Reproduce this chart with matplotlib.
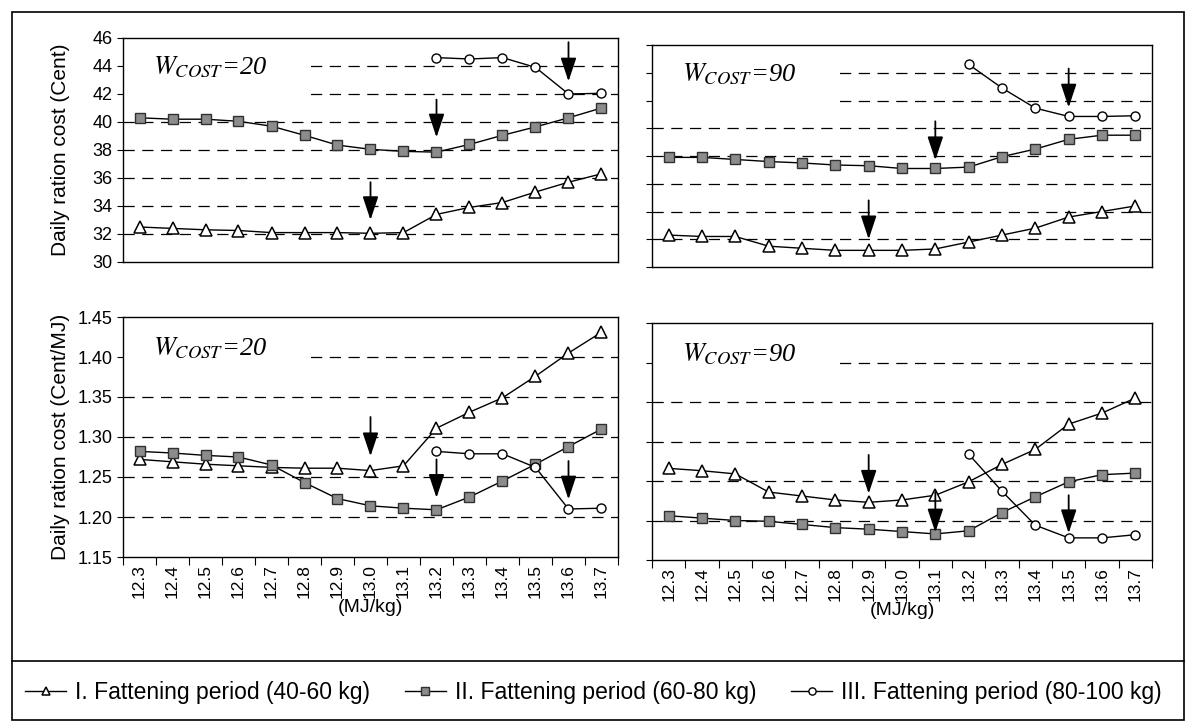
import numpy as np
import matplotlib
matplotlib.use("Agg")
import matplotlib.pyplot as plt
from matplotlib.patches import Rectangle
from matplotlib.lines import Line2D

plt.rcParams['font.family'] = ['Liberation Sans', 'DejaVu Sans']
plt.rcParams['mathtext.fontset'] = 'stix'

nan = np.nan

# energy levels (MJ/kg)
energy = ["12.3", "12.4", "12.5", "12.6", "12.7", "12.8", "12.9", "13.0",
          "13.1", "13.2", "13.3", "13.4", "13.5", "13.6", "13.7"]

# daily ration cost (Cent), W_cost = 20
cent20_p1 = [32.5, 32.4, 32.3, 32.25, 32.1, 32.1, 32.1, 32.05, 32.1, 33.4, 33.9, 34.25, 35.0, 35.7, 36.3]
cent20_p2 = [40.3, 40.2, 40.2, 40.05, 39.7, 39.05, 38.35, 38.05, 37.9, 37.85, 38.4, 39.05, 39.65, 40.3, 41.0]
cent20_p3 = [nan, nan, nan, nan, nan, nan, nan, nan, nan, 44.6, 44.5, 44.6, 43.9, 42.0, 42.05]

# daily ration cost (Cent), W_cost = 90
cent90_p1 = [32.3, 32.2, 32.2, 31.5, 31.35, 31.2, 31.2, 31.2, 31.3, 31.8, 32.3, 32.8, 33.6, 34.0, 34.4]
cent90_p2 = [37.9, 37.9, 37.75, 37.6, 37.5, 37.35, 37.3, 37.1, 37.1, 37.2, 37.95, 38.5, 39.2, 39.5, 39.5]
cent90_p3 = [nan, nan, nan, nan, nan, nan, nan, nan, nan, 44.6, 42.9, 41.45, 40.85, 40.85, 40.9]

# daily ration cost (Cent/MJ), W_cost = 20
mj20_p1 = [1.272, 1.269, 1.266, 1.264, 1.262, 1.261, 1.261, 1.258, 1.264, 1.311, 1.331, 1.349, 1.376, 1.405, 1.431]
mj20_p2 = [1.282, 1.280, 1.277, 1.275, 1.265, 1.243, 1.223, 1.214, 1.211, 1.209, 1.225, 1.245, 1.266, 1.288, 1.310]
mj20_p3 = [nan, nan, nan, nan, nan, nan, nan, nan, nan, 1.282, 1.279, 1.279, 1.262, 1.210, 1.211]

# daily ration cost (Cent/MJ), W_cost = 90
mj90_p1 = [1.266, 1.263, 1.259, 1.236, 1.231, 1.226, 1.223, 1.226, 1.232, 1.249, 1.271, 1.290, 1.322, 1.336, 1.355]
mj90_p2 = [1.206, 1.203, 1.200, 1.199, 1.195, 1.191, 1.189, 1.186, 1.183, 1.187, 1.210, 1.230, 1.249, 1.258, 1.260]
mj90_p3 = [nan, nan, nan, nan, nan, nan, nan, nan, nan, 1.284, 1.237, 1.194, 1.178, 1.178, 1.182]

# optimum arrows: (energy label, start, end)
arrows_c20 = [("13.0", 35.7, 33.0), ("13.2", 41.6, 38.9), ("13.6", 45.7, 42.9)]
arrows_c90 = [("12.9", 34.8, 32.0), ("13.1", 40.5, 37.7), ("13.5", 44.3, 41.5)]
arrows_m20 = [("13.0", 1.325, 1.276), ("13.2", 1.272, 1.224), ("13.6", 1.270, 1.222)]
arrows_m90 = [("12.9", 1.283, 1.234), ("13.1", 1.236, 1.185), ("13.5", 1.232, 1.184)]

legend_labels = ["I. Fattening period (40-60 kg)",
                 "II. Fattening period (60-80 kg)",
                 "III. Fattening period (80-100 kg)"]

W, H = 1187, 724
fig = plt.figure(figsize=(W / 100, H / 100), dpi=100)


def box(l, t, r, b):
    return [l / W, 1 - b / H, (r - l) / W, (b - t) / H]


ax_tl = fig.add_axes(box(123, 38, 618, 262))
ax_tr = fig.add_axes(box(652, 45, 1152, 267))
ax_bl = fig.add_axes(box(123, 317, 618, 557))
ax_br = fig.add_axes(box(652, 323, 1152, 560))

x = np.arange(len(energy))
styles = [dict(marker='^', ms=8, mfc='white', mec='black', mew=1.1),
          dict(marker='s', ms=6.5, mfc='#8c8c8c', mec='#303030', mew=1.0),
          dict(marker='o', ms=6.5, mfc='white', mec='black', mew=1.0)]


def panel(ax, series, arrows, ylim, yticks, wcost, ylabel=None, yfmt="{:.0f}",
          xlabels=False, show_ylabels=True):
    for vals, st in zip(series, styles):
        ax.plot(x, vals, color='black', lw=1.0, zorder=4, **st)
    ax.set_xlim(-0.5, len(energy) - 0.5)
    ax.set_ylim(*ylim)
    ax.set_yticks(yticks)
    for yv in yticks[1:-1]:
        ax.axhline(yv, color='black', lw=0.9, ls=(0, (9, 6)), zorder=1)
    # white label box covering grid lines behind the W_cost text
    ax.add_patch(Rectangle((0, 0.70), 0.37, 0.30, transform=ax.transAxes,
                           fc='white', ec='none', zorder=2))
    ax.text(0.06, 0.87, r'$\mathit{W}_{\mathit{COST}}$=' + str(wcost),
            transform=ax.transAxes, fontsize=19, va='center', ha='left', zorder=3,
            family='Liberation Serif', style='italic')
    for lab, y0, y1 in arrows:
        xi = energy.index(lab)
        ax.annotate('', xy=(xi, y1), xytext=(xi, y0),
                    arrowprops=dict(arrowstyle='-|>,head_length=0.9,head_width=0.3',
                                    mutation_scale=16, lw=1.3, color='black',
                                    shrinkA=0, shrinkB=0), zorder=5)
    if show_ylabels:
        ax.set_yticklabels([yfmt.format(v) for v in yticks], fontsize=13)
    else:
        ax.set_yticklabels([])
    ax.tick_params(axis='y', direction='out', length=4, width=0.8)
    if xlabels:
        ax.set_xticks(np.arange(-0.5, len(energy), 1.0))
        ax.set_xticklabels([])
        ax.set_xticks(x, minor=True)
        ax.set_xticklabels(energy, minor=True, rotation=90, fontsize=12.5)
        ax.tick_params(axis='x', which='major', direction='out', length=6, width=0.8)
        ax.tick_params(axis='x', which='minor', length=0, pad=5)
        ax.set_xlabel('(MJ/kg)', fontsize=14, labelpad=1)
    else:
        ax.set_xticks([])
    if ylabel:
        ax.set_ylabel(ylabel, fontsize=15)
        ax.yaxis.set_label_coords(-0.107, 0.5)
    for s in ax.spines.values():
        s.set_linewidth(1.0)


cent_ticks = [30, 32, 34, 36, 38, 40, 42, 44, 46]
mj_ticks = [1.15, 1.20, 1.25, 1.30, 1.35, 1.40, 1.45]

panel(ax_tl, [cent20_p1, cent20_p2, cent20_p3], arrows_c20, (30, 46), cent_ticks, 20,
      ylabel='Daily ration cost (Cent)')
panel(ax_tr, [cent90_p1, cent90_p2, cent90_p3], arrows_c90, (30, 46), cent_ticks, 90,
      show_ylabels=False)
panel(ax_bl, [mj20_p1, mj20_p2, mj20_p3], arrows_m20, (1.15, 1.45), mj_ticks, 20,
      ylabel='Daily ration cost (Cent/MJ)', yfmt="{:.2f}", xlabels=True)
panel(ax_br, [mj90_p1, mj90_p2, mj90_p3], arrows_m90, (1.15, 1.45), mj_ticks, 90,
      yfmt="{:.2f}", xlabels=True, show_ylabels=False)

# outer frame and legend separator
fig.add_artist(Rectangle((12 / W, 1 - 720 / H), (1184 - 12) / W, (720 - 12) / H,
                         transform=fig.transFigure, fill=False, ec='black', lw=1.2))
fig.add_artist(Line2D([12 / W, 1184 / W], [1 - 661 / H, 1 - 661 / H],
                      transform=fig.transFigure, color='black', lw=1.2))

leg_handles = [Line2D([], [], color='black', lw=1.0, **dict(st, ms=st['ms'] * 0.8)) for st in styles]
fig.legend(leg_handles, legend_labels, loc='center', bbox_to_anchor=(0.5, 1 - 693 / H),
           ncol=3, frameon=False, handlelength=1.8, handletextpad=0.4, columnspacing=1.5,
           fontsize=16.5)

fig.savefig('out.png', dpi=100)
